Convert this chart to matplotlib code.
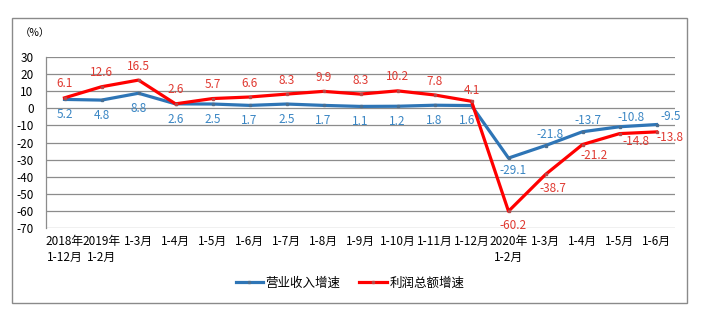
import matplotlib.pyplot as plt
from matplotlib.patches import Rectangle
import numpy as np

plt.rcParams['font.family'] = ['Noto Sans CJK SC', 'DejaVu Sans']

categories = ['2018年\n1-12月', '2019年\n1-2月', '1-3月', '1-4月', '1-5月', '1-6月', '1-7月',
              '1-8月', '1-9月', '1-10月', '1-11月', '1-12月', '2020年\n1-2月', '1-3月',
              '1-4月', '1-5月', '1-6月']
revenue = [5.2, 4.8, 8.8, 2.6, 2.5, 1.7, 2.5, 1.7, 1.1, 1.2, 1.8, 1.6,
           -29.1, -21.8, -13.7, -10.8, -9.5]
profit = [6.1, 12.6, 16.5, 2.6, 5.7, 6.6, 8.3, 9.9, 8.3, 10.2, 7.8, 4.1,
          -60.2, -38.7, -21.2, -14.8, -13.8]
yticks = [30, 20, 10, 0, -10, -20, -30, -40, -50, -60, -70]

blue = '#2e75b6'
red = '#ff0000'

fig = plt.figure(figsize=(7.11, 3.22), dpi=100)
ax = fig.add_axes([46 / 711, 1 - 228 / 322, 629 / 711, 171 / 322])

x = np.arange(len(categories))
ax.plot(x, revenue, color=blue, lw=2.3, marker='s', ms=2, mfc='#4a6f92', mec='#4a6f92',
        label='营业收入增速', zorder=3)
ax.plot(x, profit, color=red, lw=2.3, marker='s', ms=2, mfc='#b84848', mec='#b84848',
        label='利润总额增速', zorder=4)

# value labels: offsets in points
blue_off = [(0, -11)] * 11 + [(-3, -11), (3, -9), (3, 8), (4, 8), (8, 7), (10, 6)]
red_off = [(0, 10)] * 11 + [(0, 8), (3, -10), (5, -10), (8, -8), (12, -6), (10, -4)]
for i, v in enumerate(revenue):
    dx, dy = blue_off[i]
    ax.annotate(f'{v:g}', (x[i], v), xytext=(dx, dy), textcoords='offset points',
                ha='center', va='center', fontsize=8.5, color='#3a86c4')
for i, v in enumerate(profit):
    dx, dy = red_off[i]
    ax.annotate(f'{v:g}', (x[i], v), xytext=(dx, dy), textcoords='offset points',
                ha='center', va='center', fontsize=8.5, color='#e03a32')

ax.set_xlim(-0.5, len(categories) - 0.5)
ax.set_ylim(-70, 30)
ax.set_yticks(yticks)
ax.set_yticklabels([str(t) for t in yticks], fontsize=8.5)
ax.set_xticks(x)
ax.set_xticklabels(categories, fontsize=8.5, linespacing=1.3)
ax.tick_params(axis='both', length=0)
ax.tick_params(axis='y', pad=9)
ax.tick_params(axis='x', pad=5)
ax.grid(axis='y', color='#8c8c8c', lw=0.9)
ax.set_axisbelow(True)
for s in ['top', 'right', 'bottom']:
    ax.spines[s].set_visible(False)
ax.spines['left'].set_color('#8c8c8c')
ax.spines['left'].set_linewidth(0.9)

fig.text(20 / 711, 1 - 33 / 322, '（%）', fontsize=7.5, va='center', ha='left')

fig.legend(loc='center', bbox_to_anchor=(350 / 711, 1 - 283 / 322), ncol=2, frameon=False,
           fontsize=9, handlelength=2.2, handletextpad=0.2, columnspacing=1.5)

fig.patches.append(Rectangle((11.5 / 711, 1 - 303 / 322), 675.5 / 711, 285 / 322,
                             transform=fig.transFigure, fill=False, ec='#8a8a8a', lw=1))

fig.savefig('out.png', dpi=100)
